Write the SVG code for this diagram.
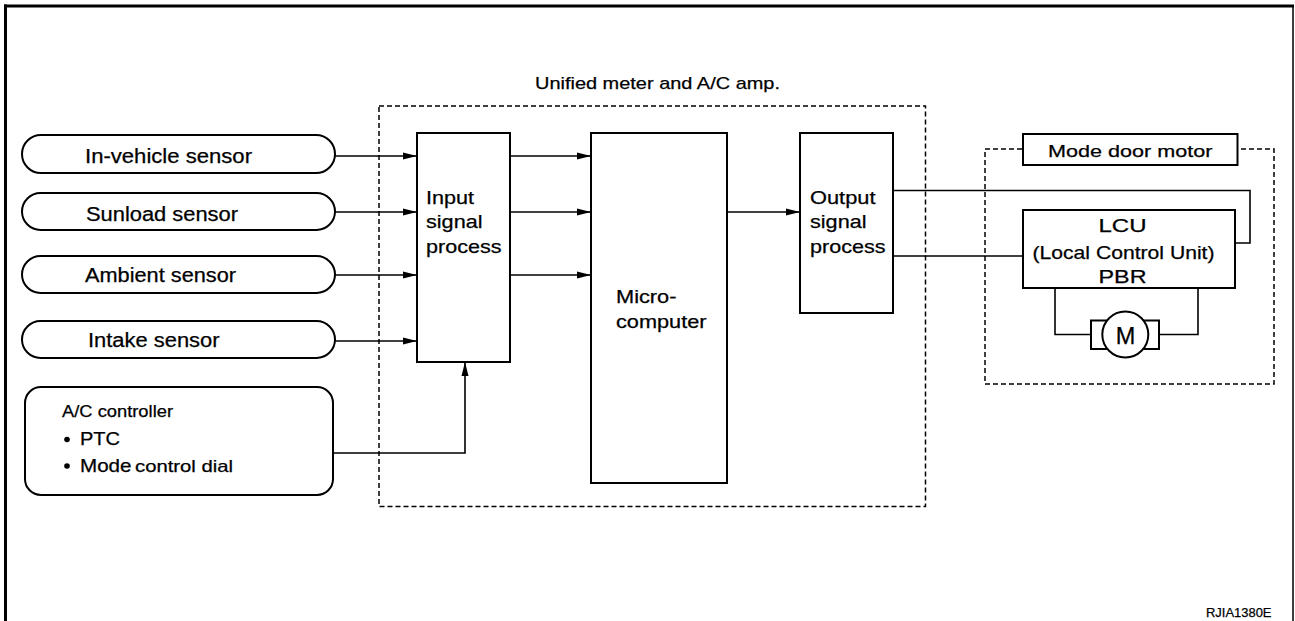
<svg xmlns="http://www.w3.org/2000/svg" width="1295" height="621" viewBox="0 0 1295 621">
<style>
.t{font-family:"Liberation Sans",Arial,Helvetica,sans-serif;fill:#000;stroke:#000;stroke-width:0.25}
.box{fill:#fff;stroke:#000;stroke-width:2}
.dash{fill:none;stroke:#000;stroke-width:1.5;stroke-dasharray:5 3}
.wire{fill:none;stroke:#000;stroke-width:1.6}
</style>
<defs>
<marker id="arr" markerUnits="userSpaceOnUse" markerWidth="15" markerHeight="9" refX="14" refY="4" orient="auto">
<path d="M0,0.5 L14,4 L0,7.5 z" fill="#000"/>
</marker>
</defs>
<rect width="1295" height="621" fill="#fff"/>
<g id="frame">
<line x1="5.5" y1="4.5" x2="5.5" y2="621" stroke="#000" stroke-width="3"/>
<line x1="4" y1="6" x2="1294" y2="6" stroke="#000" stroke-width="3"/>
<line x1="1293" y1="5" x2="1293" y2="621" stroke="#000" stroke-width="1.5"/>
</g>
<g id="amp-group">
<rect class="dash" x="379" y="106" width="546.5" height="400.5"/>
<text class="t" x="535" y="89" font-size="17" textLength="245" lengthAdjust="spacingAndGlyphs">Unified meter and A/C amp.</text>
</g>
<g id="motor-group">
<rect class="dash" x="985" y="149" width="289" height="235"/>
</g>
<g id="connectors">
<path class="wire" d="M335,156 H417" marker-end="url(#arr)"/>
<path class="wire" d="M335,212 H417" marker-end="url(#arr)"/>
<path class="wire" d="M335,275 H417" marker-end="url(#arr)"/>
<path class="wire" d="M335,341 H417" marker-end="url(#arr)"/>
<path class="wire" d="M333,453 H465 V362" marker-end="url(#arr)"/>
<path class="wire" d="M510,156 H591" marker-end="url(#arr)"/>
<path class="wire" d="M510,212 H591" marker-end="url(#arr)"/>
<path class="wire" d="M510,275 H591" marker-end="url(#arr)"/>
<path class="wire" d="M727,212 H800" marker-end="url(#arr)"/>
<path class="wire" d="M893,190.5 H1250 V243 H1235"/>
<path class="wire" d="M893,256 H1023"/>
<path class="wire" d="M1055,288 V334.5 H1091"/>
<path class="wire" d="M1198,288 V334.5 H1159"/>
</g>
<g id="in-vehicle-sensor">
<rect class="box" x="22" y="135" width="313" height="38" rx="19"/>
<text class="t" x="85" y="163" font-size="19.5" textLength="167" lengthAdjust="spacingAndGlyphs">In-vehicle sensor</text>
</g>
<g id="sunload-sensor">
<rect class="box" x="22" y="193" width="313" height="37" rx="18.5"/>
<text class="t" x="86" y="221" font-size="19.5" textLength="152" lengthAdjust="spacingAndGlyphs">Sunload sensor</text>
</g>
<g id="ambient-sensor">
<rect class="box" x="22" y="256" width="313" height="37" rx="18.5"/>
<text class="t" x="85" y="282" font-size="19.5" textLength="151" lengthAdjust="spacingAndGlyphs">Ambient sensor</text>
</g>
<g id="intake-sensor">
<rect class="box" x="22" y="321" width="313" height="37" rx="18.5"/>
<text class="t" x="88" y="347" font-size="19.5" textLength="131.5" lengthAdjust="spacingAndGlyphs">Intake sensor</text>
</g>
<g id="ac-controller">
<rect class="box" x="25" y="387" width="308" height="108" rx="16"/>
<text class="t" x="62" y="417" font-size="16.5" textLength="111" lengthAdjust="spacingAndGlyphs">A/C controller</text>
<circle cx="67" cy="439.5" r="2.8" fill="#000"/>
<text class="t" x="80" y="445" font-size="18.5" textLength="40" lengthAdjust="spacingAndGlyphs">PTC</text>
<circle cx="67" cy="466" r="2.8" fill="#000"/>
<text class="t" x="80" y="471.5" font-size="18.5" textLength="51.5" lengthAdjust="spacingAndGlyphs">Mode</text>
<text class="t" x="135" y="471.5" font-size="16.5" textLength="98" lengthAdjust="spacingAndGlyphs">control dial</text>
</g>
<g id="input-signal-process">
<rect class="box" x="417" y="133" width="93" height="229"/>
<text class="t" x="426" y="203.5" font-size="18.5" textLength="48" lengthAdjust="spacingAndGlyphs">Input</text>
<text class="t" x="426" y="228" font-size="18.5" textLength="56.5" lengthAdjust="spacingAndGlyphs">signal</text>
<text class="t" x="426" y="253" font-size="18.5" textLength="75.5" lengthAdjust="spacingAndGlyphs">process</text>
</g>
<g id="microcomputer">
<rect class="box" x="591" y="133" width="136" height="350"/>
<text class="t" x="616" y="303" font-size="18.5" textLength="60.5" lengthAdjust="spacingAndGlyphs">Micro-</text>
<text class="t" x="616" y="328" font-size="18.5" textLength="90.5" lengthAdjust="spacingAndGlyphs">computer</text>
</g>
<g id="output-signal-process">
<rect class="box" x="800" y="133" width="93" height="180"/>
<text class="t" x="810" y="203.5" font-size="18.5" textLength="65.5" lengthAdjust="spacingAndGlyphs">Output</text>
<text class="t" x="810" y="228" font-size="18.5" textLength="56.5" lengthAdjust="spacingAndGlyphs">signal</text>
<text class="t" x="810" y="253" font-size="18.5" textLength="75.5" lengthAdjust="spacingAndGlyphs">process</text>
</g>
<g id="mode-door-motor-label">
<rect class="box" x="1023" y="134" width="214.5" height="31" stroke-width="1.5"/>
<text class="t" x="1048" y="157" font-size="17" textLength="164.5" lengthAdjust="spacingAndGlyphs">Mode door motor</text>
</g>
<g id="lcu">
<rect class="box" x="1023" y="210" width="212" height="78"/>
<text class="t" x="1098.5" y="231.5" font-size="18.5" textLength="48" lengthAdjust="spacingAndGlyphs">LCU</text>
<text class="t" x="1032.5" y="258.5" font-size="18.5" textLength="182" lengthAdjust="spacingAndGlyphs">(Local Control Unit)</text>
<text class="t" x="1098.5" y="282.5" font-size="18.5" textLength="48" lengthAdjust="spacingAndGlyphs">PBR</text>
</g>
<g id="motor">
<rect class="box" x="1091" y="320.5" width="68" height="28.5" stroke-width="1.5"/>
<circle class="box" cx="1125.3" cy="334.5" r="23" stroke-width="1.5"/>
<text class="t" x="1125.5" y="344" font-size="23.5" text-anchor="middle">M</text>
</g>
<g id="code">
<text class="t" x="1206" y="616.5" font-size="13" stroke-width="0" textLength="65.5" lengthAdjust="spacingAndGlyphs">RJIA1380E</text>
</g>
</svg>
